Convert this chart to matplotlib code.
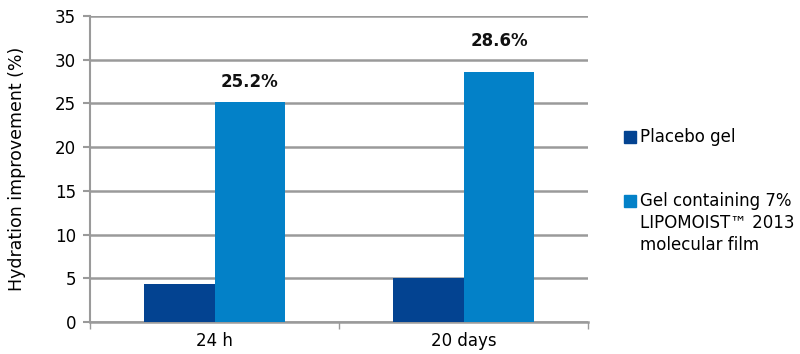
import numpy as np
import matplotlib
matplotlib.use("Agg")
import matplotlib.pyplot as plt
from matplotlib.patches import Rectangle

categories = ["24 h", "20 days"]
placebo = [4.4, 5.0]
lipomoist = [25.2, 28.6]
lipo_labels = ["25.2%", "28.6%"]
series_names = ["Placebo gel", "Gel containing 7%\nLIPOMOIST\u2122 2013\nmolecular film"]

dark_blue = "#034391"
light_blue = "#0381C8"
grid_grey = "#9A9A9A"

plt.rcParams['font.family'] = ['DejaVu Sans']

W, H = 800, 354
fig = plt.figure(figsize=(W / 100, H / 100), dpi=100)
ax = fig.add_axes([90 / W, 32 / H, 498 / W, 306 / H])

x = np.arange(len(categories))
w = 0.285
ax.bar(x - w / 2, placebo, w, color=dark_blue, zorder=3)
bars = ax.bar(x + w / 2, lipomoist, w, color=light_blue, zorder=3)

# value labels above the light bars (pixel offsets as in the original)
offsets = [20, 31]
for b, lab, off in zip(bars, lipo_labels, offsets):
    ax.annotate(lab, (b.get_x() + b.get_width() / 2, b.get_height()),
                xytext=(0, off * 0.72), textcoords="offset points",
                ha="center", va="center", fontsize=12, fontweight="bold",
                color="#111111")

ax.set_xlim(-0.5, 1.5)
ax.set_ylim(0, 35)
ax.set_yticks(np.arange(0, 36, 5))
ax.yaxis.grid(True, color=grid_grey, linewidth=1.8, zorder=0)
ax.set_axisbelow(True)

ax.set_xticks(x)
ax.set_xticklabels(categories, fontsize=12)
ax.set_xticks([-0.5, 0.5, 1.5], minor=True)
ax.tick_params(axis="x", which="major", length=0, pad=7)
ax.tick_params(axis="x", which="minor", length=5, color=grid_grey, width=1)
ax.tick_params(axis="y", length=5, color=grid_grey, width=1.5, labelsize=12, pad=5)

for s in ["top", "right"]:
    ax.spines[s].set_visible(False)
ax.spines["left"].set_color(grid_grey)
ax.spines["left"].set_linewidth(1.5)
ax.spines["bottom"].set_color(grid_grey)
ax.spines["bottom"].set_linewidth(1.8)

ax.set_ylabel("Hydration improvement (%)", fontsize=12.5, labelpad=21)

# legend drawn by hand so the marker sits on the first line of each entry
entry_tops = [137, 201]
line_step = 22
for name, color, y0 in zip(series_names, [dark_blue, light_blue], entry_tops):
    fig.patches.append(Rectangle((624 / W, 1 - (y0 + 6) / H), 12 / W, 12 / H,
                                 transform=fig.transFigure, color=color))
    for i, line in enumerate(name.split("\n")):
        fig.text(640 / W, 1 - (y0 + i * line_step) / H, line, fontsize=12,
                 ha="left", va="center")

fig.savefig("out.png", dpi=100)
